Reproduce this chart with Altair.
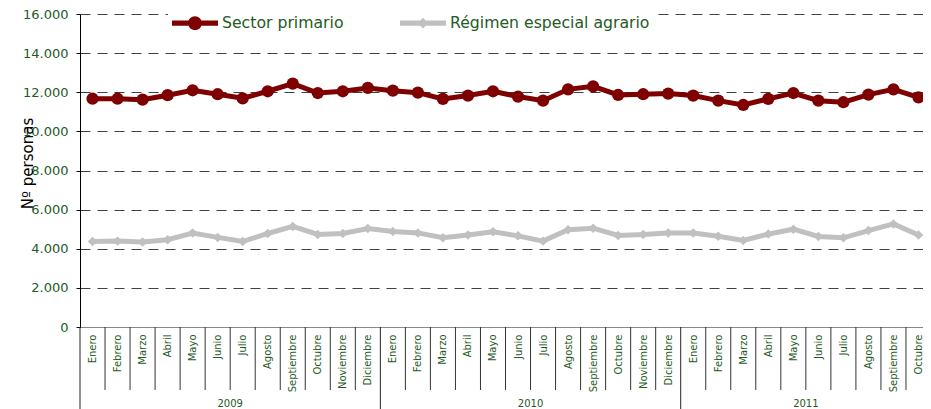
import json
import altair as alt
import pandas as pd

meses_base = ["Enero", "Febrero", "Marzo", "Abril", "Mayo", "Junio", "Julio",
              "Agosto", "Septiembre", "Octubre", "Noviembre", "Diciembre"]
meses = meses_base * 2 + meses_base[:10]
anios = ["2009"] * 12 + ["2010"] * 12 + ["2011"] * 10

sector_primario = [11670, 11670, 11620, 11850, 12100, 11900, 11690, 12050, 12440, 11960, 12050, 12220,
                   12080, 11980, 11660, 11830, 12050, 11780, 11570, 12150, 12300, 11860, 11900, 11930,
                   11830, 11570, 11350, 11660, 11960, 11570, 11490, 11880, 12150, 11740]
regimen_agrario = [4370, 4390, 4340, 4460, 4800, 4580, 4370, 4780, 5140, 4730, 4780, 5030,
                   4880, 4810, 4560, 4700, 4870, 4660, 4390, 4970, 5050, 4680, 4730, 4810,
                   4800, 4640, 4420, 4750, 5000, 4630, 4560, 4930, 5270, 4700]

series = ["Sector primario", "Régimen especial agrario"]
colores = ["#7f0000", "#c0c0c0"]
y_ticks = [0, 2000, 4000, 6000, 8000, 10000, 12000, 14000, 16000]

GREEN = "#245a24"
FONT = "DejaVu Sans"

W = 843
BAND = 851 / len(meses)

idx = list(range(len(meses)))
df_meses = pd.DataFrame({"idx": idx, "mes": meses, "anio": anios})
rows = []
for s, vals in zip(series, [sector_primario, regimen_agrario]):
    for i, v in enumerate(vals):
        rows.append({"idx": i, "mes": meses[i], "anio": anios[i], "serie": s, "valor": v})
df = pd.DataFrame(rows)

xscale = alt.Scale(domain=[-0.5, -0.5 + W / BAND], nice=False, zero=False)
yscale = alt.Scale(domain=[0, 16000], nice=False)
cscale = alt.Scale(domain=series, range=colores)

sym_circle = "M-1,-0.11H1V0.11H-1Z M-0.3,0A0.3,0.3 0 1,1 0.3,0A0.3,0.3 0 1,1 -0.3,0Z"
sym_diamond = "M-1,-0.11H1V0.11H-1Z M0,-0.23L0.23,0L0,0.23L-0.23,0Z"
sscale = alt.Scale(domain=series, range=[sym_circle, sym_diamond])

x_axis = alt.Axis(
    values=idx, labelExpr=f"{json.dumps(meses)}[datum.value]",
    labelAngle=-90, labelFontSize=10, labelColor=GREEN, labelFont=FONT,
    labelPadding=7, labelOverlap=False, labelFlush=False,
    ticks=False, grid=False, domainColor="#888888", domainWidth=1, title=None,
)
y_axis = alt.Axis(
    values=y_ticks, labelExpr="replace(format(datum.value, ','), ',', '.')",
    grid=True, gridDash=[10, 7], gridColor="#404040", gridWidth=1,
    tickColor="black", tickSize=4, domainColor="black",
    labelColor=GREEN, labelFontSize=13, labelFont=FONT, labelPadding=8,
    title="Nº personas", titleFont=FONT, titleFontSize=15, titleFontWeight="normal",
    titleColor="black", titleX=-48, titleY=149, titleAlign="center", titleBaseline="alphabetic",
)

base_m = alt.Chart(df_meses)

month_rules = base_m.transform_filter("datum.mes != 'Enero'").transform_calculate(
    b="datum.idx - 0.5"
).mark_rule(color="#333333", strokeWidth=1).encode(
    x=alt.X("b:Q", scale=xscale, axis=x_axis),
    y=alt.value(313), y2=alt.value(376),
)
year_rules = base_m.transform_filter("datum.mes == 'Enero'").transform_calculate(
    b="datum.idx - 0.5"
).mark_rule(color="#222222", strokeWidth=1).encode(
    x=alt.X("b:Q", scale=xscale, axis=x_axis),
    y=alt.value(313), y2=alt.value(395),
)
year_text = base_m.transform_aggregate(
    c="mean(idx)", groupby=["anio"]
).mark_text(fontSize=10, font=FONT, color=GREEN, baseline="middle").encode(
    x=alt.X("c:Q", scale=xscale, axis=x_axis),
    y=alt.value(390),
    text="anio:N",
)

base = alt.Chart(df)
lines = base.mark_line(strokeWidth=5).encode(
    x=alt.X("idx:Q", scale=xscale, axis=x_axis),
    y=alt.Y("valor:Q", scale=yscale, axis=y_axis),
    color=alt.Color("serie:N", scale=cscale, legend=None),
    detail="serie:N",
)
pts_red = base.transform_filter(f"datum.serie == '{series[0]}'").mark_point(
    shape="circle", filled=True, size=150, opacity=1
).encode(
    x=alt.X("idx:Q", scale=xscale, axis=x_axis),
    y=alt.Y("valor:Q", scale=yscale, axis=y_axis),
    color=alt.Color("serie:N", scale=cscale, legend=None),
)
pts_gray = base.transform_filter(f"datum.serie == '{series[1]}'").mark_point(
    shape="diamond", filled=True, size=90, opacity=1
).encode(
    x=alt.X("idx:Q", scale=xscale, axis=x_axis),
    y=alt.Y("valor:Q", scale=yscale, axis=y_axis),
    color=alt.Color("serie:N", scale=cscale, legend=None),
)

leg = alt.Legend(
    title=None, orient="none", direction="horizontal", legendX=88, legendY=-18,
    symbolSize=2116, symbolStrokeWidth=0, symbolOpacity=1,
    labelFontSize=15.7, labelFont=FONT, labelColor=GREEN, labelOffset=4, labelLimit=400,
    columnPadding=56, fillColor="white", padding=4,
)
legend_layer = base.transform_filter("datum.idx < 0").mark_point(filled=True, opacity=1).encode(
    x=alt.X("idx:Q", scale=xscale, axis=x_axis),
    y=alt.Y("valor:Q", scale=yscale, axis=y_axis),
    color=alt.Color("serie:N", scale=cscale, legend=leg),
    shape=alt.Shape("serie:N", scale=sscale, legend=leg),
)

chart = alt.layer(
    month_rules, year_rules, year_text, lines, pts_gray, pts_red, legend_layer
).resolve_legend(color="independent", shape="independent").properties(
    width=W, height=313,
    autosize=alt.AutoSizeParams(type="none"),
    padding={"left": 72, "top": 6, "right": 0, "bottom": 82},
    background="white",
).configure_view(stroke=None)

chart.save("out.html", embed_options={"renderer": "svg", "actions": False})
